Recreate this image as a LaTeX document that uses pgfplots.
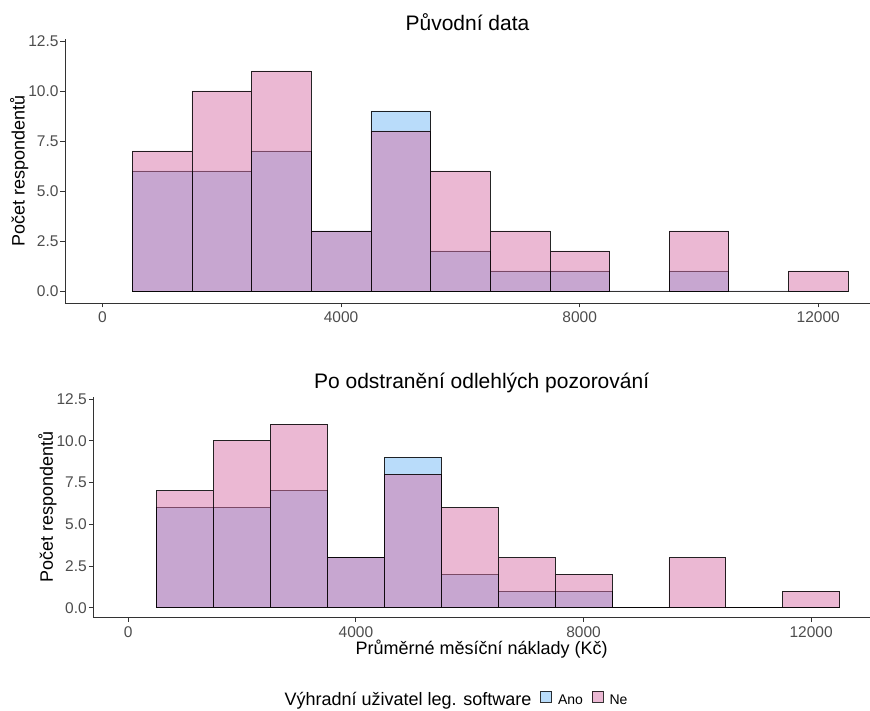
\documentclass[border=0pt]{standalone}
\usepackage{fontspec}
\setmainfont{Liberation Sans}
\usepackage{pgfplots}
\pgfplotsset{compat=1.18}
\definecolor{anoc}{HTML}{73B9F5}
\definecolor{nec}{HTML}{D771A7}
\definecolor{tickc}{HTML}{4D4D4D}
\pgfkeys{/pgf/number format/assume math mode=true}
\pgfplotsset{
  hist/.style={
    scale only axis,
    axis lines=left,
    axis line style={-, black!80, line width=0.9pt},
    tick align=outside,
    major tick length=4.5pt,
    tick style={black!80, line width=0.9pt},
    xtick={0,4000,8000,12000},
    ytick={0,2.5,5,7.5,10,12.5},
    scaled x ticks=false,
    x tick label style={/pgf/number format/1000 sep={}, yshift=-1pt},
    y tick label style={/pgf/number format/fixed, /pgf/number format/fixed zerofill, /pgf/number format/precision=1, xshift=1.5pt},
    ticklabel style={font=\fontsize{15.5}{17}\selectfont, text=tickc},
    label style={font=\fontsize{18}{20}\selectfont},
    title style={font=\fontsize{21}{24}\selectfont, at={(0.5,1)}, anchor=base, yshift=2pt},
    ylabel={Počet respondentů},
    ylabel shift=-7pt,
    xlabel shift=-4pt,
    clip=false,
  },
  anostyle/.style={ybar interval, fill=anoc, fill opacity=0.5, draw=black, draw opacity=0.85, line width=0.7pt},
  nestyle/.style={ybar interval, fill=nec, fill opacity=0.5, draw=black, draw opacity=0.85, line width=0.7pt},
}
\begin{document}
\begin{tikzpicture}
\useasboundingbox (0,0) rectangle (870pt,711pt);
% top panel
\begin{axis}[hist,
  at={(65pt,408pt)}, anchor=south west,
  width=805pt, height=264pt,
  xmin=-628, xmax=12867, ymin=-0.6, ymax=12.6,
  title={Původní data},
]
\addplot[anostyle] coordinates {(500,6) (1500,6) (2500,7) (3500,3) (4500,9) (5500,2) (6500,1) (7500,1) (8500,0) (9500,1) (10500,0) (11500,0) (12500,0)};
\addplot[nestyle] coordinates {(500,7) (1500,10) (2500,11) (3500,3) (4500,8) (5500,6) (6500,3) (7500,2) (8500,0) (9500,3) (10500,0) (11500,1) (12500,1)};
\end{axis}
% bottom panel
\begin{axis}[hist,
  at={(93.3pt,93.7pt)}, anchor=south west,
  width=776.7pt, height=220.3pt,
  xmin=-615, xmax=13035, ymin=-0.575, ymax=12.62,
  title={Po odstranění odlehlých pozorování},
  xlabel={Průměrné měsíční náklady (Kč)},
  legend style={at={(0.4645,-0.3754)}, anchor=center, draw=none, fill=none,
    legend columns=-1, font=\fontsize{14}{16}\selectfont,
    /tikz/every odd column/.append style={column sep=4pt},
    /tikz/every even column/.append style={column sep=7pt}},
  legend image code/.code={\draw[#1, draw opacity=0.8, line width=0.6pt] (0pt,-2pt) rectangle (11pt,9pt);},
]
\addlegendimage{empty legend}
\addplot[anostyle] coordinates {(500,6) (1500,6) (2500,7) (3500,3) (4500,9) (5500,2) (6500,1) (7500,1) (8500,0) (9500,0) (10500,0) (11500,0) (12500,0)};
\addplot[nestyle] coordinates {(500,7) (1500,10) (2500,11) (3500,3) (4500,8) (5500,6) (6500,3) (7500,2) (8500,0) (9500,3) (10500,0) (11500,1) (12500,1)};
\legend{\fontsize{18}{20}\selectfont Výhradní uživatel leg. software, Ano, Ne}
\end{axis}
\end{tikzpicture}
\end{document}
